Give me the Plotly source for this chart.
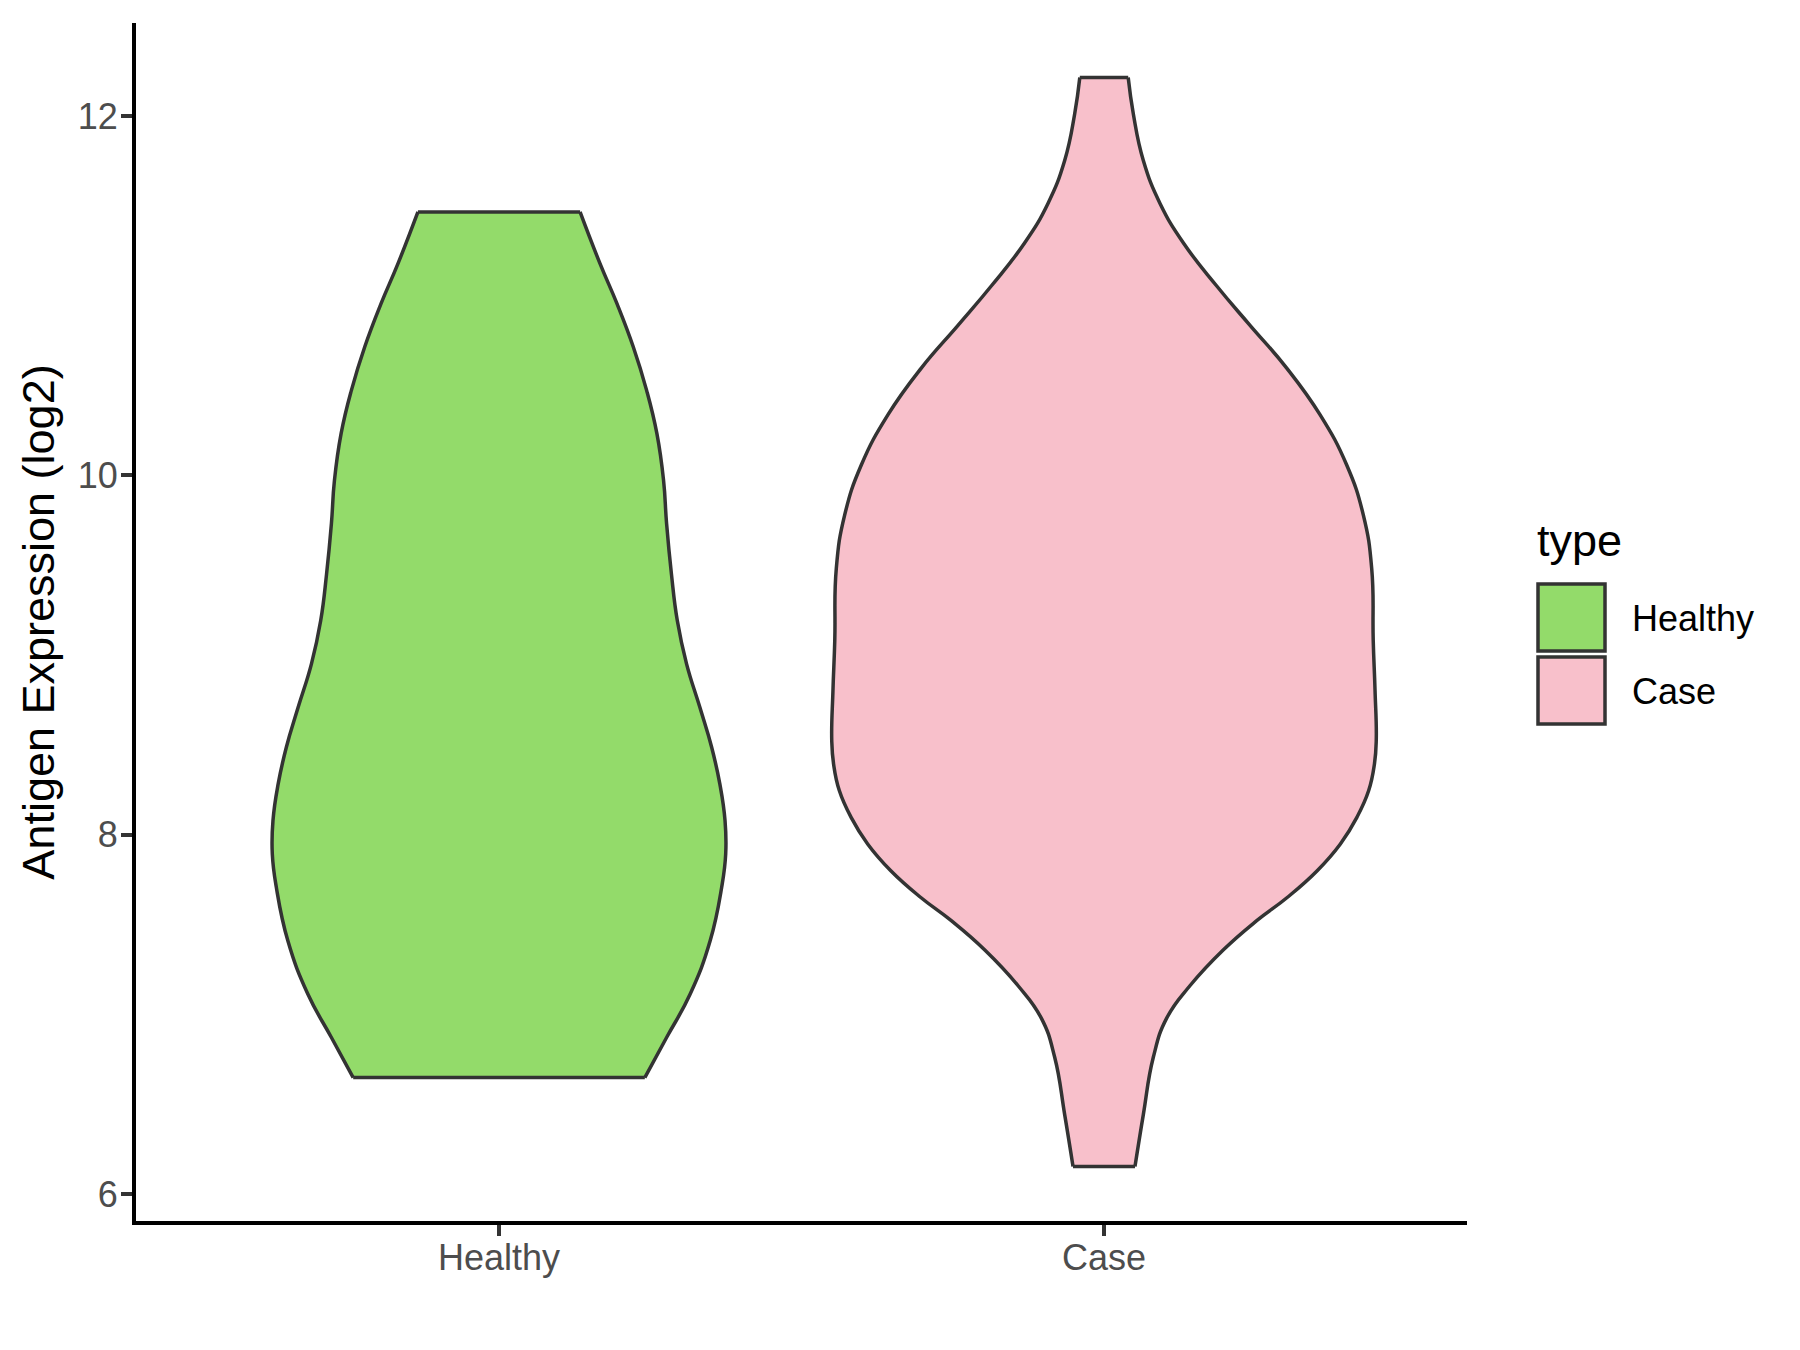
import plotly.graph_objects as go

# violin outlines: expression level and half-width (x units)
groups = ["Healthy", "Case"]
fill_colors = ["#93DB6A", "#F8C0CB"]

healthy_y = [6.649, 6.872, 7.114, 7.410, 7.707, 7.893, 8.079, 8.283, 8.487, 8.709,
             8.951, 9.192, 9.452, 9.731, 9.972, 10.232, 10.473, 10.714, 10.955, 11.178,
             11.466]
healthy_hw = [0.241, 0.277, 0.316, 0.349, 0.368, 0.3747, 0.3736, 0.365, 0.3515, 0.332,
              0.310, 0.2947, 0.285, 0.277, 0.272, 0.261, 0.244, 0.222, 0.195, 0.167,
              0.134]

case_y = [6.154, 6.443, 6.762, 6.980, 7.160, 7.359, 7.522, 7.651, 7.800, 7.949,
          8.097, 8.246, 8.394, 8.525, 8.803, 9.081, 9.481, 9.780, 10.059, 10.338,
          10.597, 10.836, 11.055, 11.294, 11.513, 11.752, 12.011, 12.214]
case_hw = [0.0512, 0.065, 0.0815, 0.1036, 0.142, 0.197, 0.2524, 0.3028, 0.3524, 0.3907,
           0.418, 0.4375, 0.447, 0.450, 0.448, 0.445, 0.4425, 0.4286, 0.401, 0.357,
           0.302, 0.241, 0.186, 0.131, 0.0926, 0.065, 0.0485, 0.040]

y_ticks = [6, 8, 10, 12]

profiles = [(healthy_y, healthy_hw), (case_y, case_hw)]
outline = "#333333"
lw = 3.5
font = "Liberation Sans, Arial, sans-serif"

fig = go.Figure()

# sides: left edge then right edge filled to it
for i, (ys, hws) in enumerate(profiles):
    c = i + 1
    fig.add_trace(go.Scatter(x=[c - h for h in hws], y=ys, mode="lines",
                             line=dict(color=outline, width=lw, shape="spline", smoothing=1.3),
                             showlegend=False, hoverinfo="skip"))
    fig.add_trace(go.Scatter(x=[c + h for h in hws], y=ys, mode="lines",
                             line=dict(color=outline, width=lw, shape="spline", smoothing=1.3),
                             fill="tonextx", fillcolor=fill_colors[i],
                             showlegend=False, hoverinfo="skip"))

# flat caps at top and bottom
for i, (ys, hws) in enumerate(profiles):
    c = i + 1
    for k in (0, -1):
        fig.add_trace(go.Scatter(x=[c - hws[k], c + hws[k]], y=[ys[k], ys[k]],
                                 mode="lines", line=dict(color=outline, width=lw),
                                 showlegend=False, hoverinfo="skip"))

ymin = min(min(healthy_y), min(case_y))
ymax = max(max(healthy_y), max(case_y))
pad = (ymax - ymin) * 0.05

# page has an 8px body margin, so the figure is a bit smaller than the window
OFF = 8
W, H = 1800 - OFF, 1350 - OFF
L, R, T, B = 128, 333, 15, 129


def px(x):
    # page pixel -> paper fraction
    return (x - OFF - L) / (W - L - R)


def py(y):
    return (OFF + H - B - y) / (H - T - B)


# legend drawn by hand to get ggplot-sized keys
fig.add_annotation(x=px(1535), y=py(540), xref="paper", yref="paper", text="type",
                   showarrow=False, xanchor="left", yanchor="middle",
                   font=dict(size=45, color="black", family=font))
for i, g in enumerate(groups):
    top = 584 + i * 73
    fig.add_shape(type="rect", xref="paper", yref="paper",
                  x0=px(1538), x1=px(1605), y0=py(top + 67), y1=py(top),
                  fillcolor=fill_colors[i], line=dict(color=outline, width=lw))
    fig.add_annotation(x=px(1630), y=py(top + 34), xref="paper", yref="paper", text=g,
                       showarrow=False, xanchor="left", yanchor="middle",
                       font=dict(size=36, color="black", family=font))

fig.update_layout(
    width=W, height=H,
    margin=dict(l=L, r=R, t=T, b=B),
    plot_bgcolor="white", paper_bgcolor="white",
    font=dict(family=font),
    showlegend=False,
)
fig.update_xaxes(range=[0.4, 2.6], tickvals=[1, 2], ticktext=groups,
                 showgrid=False, zeroline=False, showline=True, linecolor="black", linewidth=4,
                 ticks="outside", ticklen=11, tickwidth=3.5, tickcolor=outline,
                 tickfont=dict(size=36, color="#4D4D4D", family=font), ticklabelstandoff=-9,
                 automargin=False)
fig.update_yaxes(range=[ymin - pad, ymax + pad], tickvals=y_ticks,
                 showgrid=False, zeroline=False, showline=True, linecolor="black", linewidth=4,
                 ticks="outside", ticklen=11, tickwidth=3.5, tickcolor=outline,
                 tickfont=dict(size=36, color="#4D4D4D", family=font), ticklabelstandoff=-4,
                 automargin=False,
                 title=dict(text="Antigen Expression (log2)", standoff=10,
                            font=dict(size=45, color="black", family=font)))

fig.write_html("out.html")
